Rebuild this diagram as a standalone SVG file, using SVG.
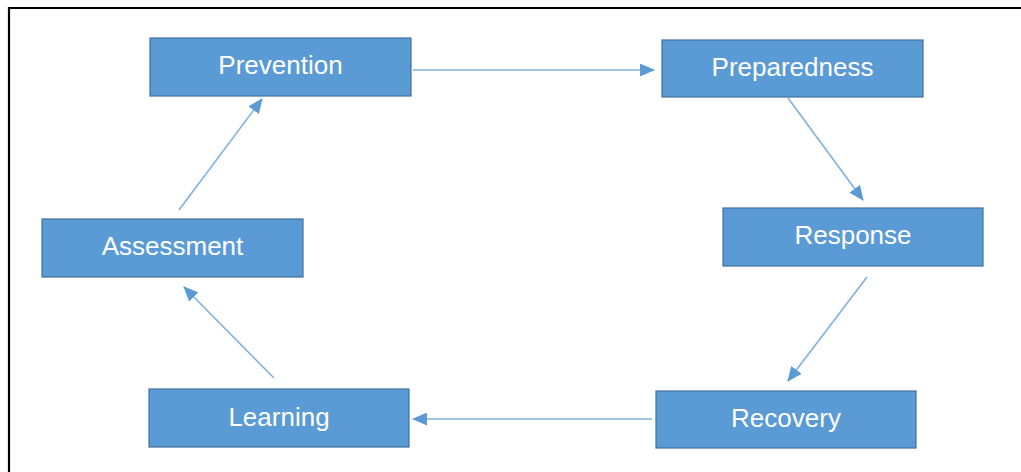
<svg xmlns="http://www.w3.org/2000/svg" width="1021" height="472" viewBox="0 0 1021 472">
<defs>
<style>
.box{fill:#5B9BD5;stroke:#41719C;stroke-width:1.2}
.lbl{font-family:"Liberation Sans",Arial,sans-serif;font-size:26px;fill:#FFFFFF;text-anchor:middle}
.con{stroke:#7FB0E0;stroke-width:1.6;fill:none;marker-end:url(#ah)}
</style>
<marker id="ah" markerUnits="userSpaceOnUse" viewBox="0 0 15 13" refX="14" refY="6.5" markerWidth="15" markerHeight="13" orient="auto">
<path d="M0,0 L15,6.5 L0,13 Z" fill="#5B9BD5"/>
</marker>
</defs>
<rect x="0" y="0" width="1021" height="472" fill="#FFFFFF"/>
<path d="M9,472 L9,8 L1021,8" fill="none" stroke="#000000" stroke-width="2.2"/>
<g id="connectors">
<line class="con" x1="413" y1="70" x2="654" y2="70"/>
<line class="con" x1="788" y1="98" x2="863" y2="200"/>
<line class="con" x1="867" y1="277" x2="788" y2="381"/>
<line class="con" x1="652" y1="419" x2="413" y2="419"/>
<line class="con" x1="274" y1="378" x2="184" y2="287"/>
<line class="con" x1="179" y1="210" x2="262" y2="99"/>
</g>
<g id="prevention"><rect class="box" x="150" y="38" width="261" height="58"/><text class="lbl" x="280.5" y="74">Prevention</text></g>
<g id="preparedness"><rect class="box" x="662" y="40" width="261" height="57"/><text class="lbl" x="792.5" y="76">Preparedness</text></g>
<g id="response"><rect class="box" x="723" y="208" width="260" height="58"/><text class="lbl" x="853" y="244">Response</text></g>
<g id="recovery"><rect class="box" x="656" y="391" width="260" height="57"/><text class="lbl" x="786" y="427">Recovery</text></g>
<g id="learning"><rect class="box" x="149" y="389" width="260" height="58"/><text class="lbl" x="279" y="426">Learning</text></g>
<g id="assessment"><rect class="box" x="42" y="219" width="261" height="58"/><text class="lbl" x="172.5" y="255">Assessment</text></g>
</svg>
